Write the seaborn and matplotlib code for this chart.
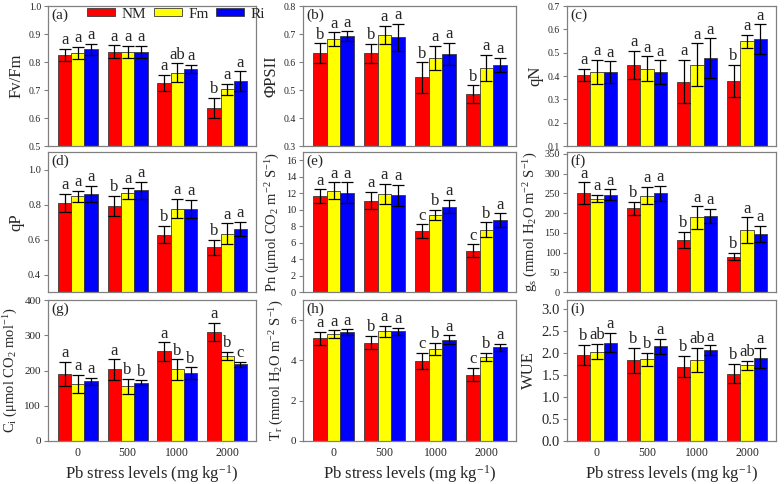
import numpy as np
import pandas as pd
import matplotlib
matplotlib.use('Agg')
import matplotlib.pyplot as plt
import matplotlib.patches as mpatches
import seaborn as sns

levels = ['0', '500', '1000', '2000']
treatments = ['NM', 'Fm', 'Ri']
colors = ['#FF0000', '#FFFF00', '#0000FF']

# rows: NM, Fm, Ri ; columns: 0, 500, 1000, 2000
fvfm = [[0.824, 0.836, 0.725, 0.636], [0.833, 0.836, 0.761, 0.702], [0.845, 0.836, 0.775, 0.731]]
fvfm_sd = [[0.022, 0.023, 0.029, 0.037], [0.021, 0.021, 0.034, 0.020], [0.019, 0.021, 0.015, 0.036]]
fvfm_let = [['a', 'a', 'a', 'b'], ['a', 'a', 'ab', 'a'], ['a', 'a', 'a', 'a']]

phipsii = [[0.631, 0.631, 0.545, 0.486], [0.682, 0.697, 0.614, 0.579], [0.692, 0.688, 0.628, 0.590]]
phipsii_sd = [[0.036, 0.034, 0.054, 0.031], [0.024, 0.032, 0.044, 0.046], [0.018, 0.049, 0.040, 0.025]]
phipsii_let = [['b', 'b', 'b', 'b'], ['a', 'a', 'a', 'a'], ['a', 'a', 'a', 'a']]

qn = [[0.404, 0.447, 0.376, 0.379], [0.417, 0.431, 0.449, 0.549], [0.416, 0.416, 0.477, 0.559]]
qn_sd = [[0.026, 0.060, 0.093, 0.069], [0.051, 0.053, 0.091, 0.027], [0.047, 0.051, 0.084, 0.063]]
qn_let = [['a', 'a', 'a', 'b'], ['a', 'a', 'a', 'a'], ['a', 'a', 'a', 'a']]

qp = [[0.809, 0.792, 0.628, 0.555], [0.847, 0.864, 0.777, 0.632], [0.860, 0.881, 0.774, 0.662]]
qp_sd = [[0.053, 0.057, 0.050, 0.043], [0.030, 0.030, 0.055, 0.060], [0.047, 0.050, 0.051, 0.040]]
qp_let = [['a', 'b', 'b', 'b'], ['a', 'a', 'a', 'a'], ['a', 'a', 'a', 'a']]

pn = [[11.6, 11.1, 7.4, 5.0], [12.3, 11.9, 9.35, 7.55], [12.05, 11.75, 10.35, 8.75]]
pn_sd = [[0.85, 1.05, 0.8, 0.8], [1.0, 1.2, 0.65, 0.9], [1.25, 1.25, 0.8, 0.8]]
pn_let = [['a', 'a', 'c', 'c'], ['a', 'a', 'b', 'b'], ['a', 'a', 'a', 'a']]

gs = [[250, 212, 132, 90], [237, 244, 189, 156], [247, 250, 193, 148]]
gs_sd = [[28, 17, 20, 10], [10, 22, 28, 33], [13, 20, 17, 20]]
gs_let = [['a', 'b', 'b', 'b'], ['a', 'a', 'a', 'a'], ['a', 'a', 'a', 'a']]

ci = [[190, 203, 254, 310], [161, 155, 203, 242], [169, 165, 193, 218]]
ci_sd = [[35, 29, 26, 26], [26, 22, 29, 11], [11, 7, 16, 7]]
ci_let = [['a', 'a', 'a', 'a'], ['a', 'b', 'b', 'b'], ['a', 'b', 'b', 'c']]

tr = [[5.1, 4.88, 3.98, 3.3], [5.3, 5.45, 4.58, 4.17], [5.4, 5.45, 5.03, 4.65]]
tr_sd = [[0.33, 0.33, 0.4, 0.33], [0.2, 0.28, 0.3, 0.22], [0.15, 0.18, 0.22, 0.17]]
tr_let = [['a', 'b', 'c', 'c'], ['a', 'a', 'b', 'b'], ['a', 'a', 'a', 'a']]

wue = [[1.95, 1.83, 1.69, 1.53], [2.03, 1.85, 1.84, 1.72], [2.23, 2.15, 2.06, 1.88]]
wue_sd = [[0.23, 0.29, 0.24, 0.22], [0.17, 0.15, 0.27, 0.10], [0.22, 0.17, 0.11, 0.23]]
wue_let = [['b', 'b', 'b', 'b'], ['ab', 'b', 'ab', 'ab'], ['a', 'a', 'a', 'a']]

panels = [
    ('(a)', 'Fv/Fm', fvfm, fvfm_sd, fvfm_let, (0.5, 1.0), np.arange(0.5, 1.01, 0.1), 12, 7),
    ('(b)', 'ΦPSII', phipsii, phipsii_sd, phipsii_let, (0.3, 0.8), np.arange(0.3, 0.81, 0.1), 12, 7),
    ('(c)', 'qN', qn, qn_sd, qn_let, (0.1, 0.7), np.arange(0.1, 0.71, 0.1), 12, 7),
    ('(d)', 'qP', qp, qp_sd, qp_let, (0.3, 1.1), np.arange(0.4, 1.01, 0.2), 12, 7.5),
    ('(e)', 'Pn (μmol CO$_2$ m$^{-2}$ S$^{-1}$)', pn, pn_sd, pn_let, (0, 17), np.arange(0, 17, 2), 10.5, 7.5),
    ('(f)', 'g$_s$ (mmol H$_2$O m$^{-2}$ S$^{-1}$)', gs, gs_sd, gs_let, (0, 355), np.arange(0, 351, 50), 10.5, 7.5),
    ('(g)', 'C$_i$ (μmol CO$_2$ mol$^{-1}$)', ci, ci_sd, ci_let, (0, 400), np.arange(0, 401, 100), 10.5, 8),
    ('(h)', 'T$_r$ (mmol H$_2$O m$^{-2}$ S$^{-1}$)', tr, tr_sd, tr_let, (0, 7), np.arange(0, 7, 2), 10.5, 8),
    ('(i)', 'WUE', wue, wue_sd, wue_let, (0, 3.2), np.arange(0, 3.01, 0.5), 12, 10.5),
]

sns.set_style('white')
plt.rcParams['font.family'] = ['Liberation Serif', 'DejaVu Serif']
plt.rcParams['mathtext.fontset'] = 'custom'
plt.rcParams['mathtext.rm'] = 'Liberation Serif'
plt.rcParams['mathtext.it'] = 'Liberation Serif:italic'
plt.rcParams['mathtext.default'] = 'regular'

fig = plt.figure(figsize=(7.84, 4.84), dpi=100)
lefts, widths = [48, 303, 567], [208, 213, 209]
tops, heights = [6, 152, 300], [140, 140, 141]

for i, (tag, ylab, mean, sd, lets, ylim, yticks, ylab_fs, tick_fs) in enumerate(panels):
    r, c = divmod(i, 3)
    ax = fig.add_axes([lefts[c] / 784, 1 - (tops[r] + heights[r]) / 484,
                       widths[c] / 784, heights[r] / 484])
    df = pd.DataFrame({'level': levels * 3,
                       'trt': np.repeat(treatments, 4),
                       'value': np.concatenate(mean)})
    sns.barplot(data=df, x='level', y='value', hue='trt', order=levels, hue_order=treatments,
                palette=colors, saturation=1, errorbar=None, width=0.8,
                edgecolor='#3a3a3a', linewidth=0.6, ax=ax, legend=False)

    bars = list(ax.containers[:3])
    for j, cont in enumerate(bars):
        xs = sorted(b.get_x() + b.get_width() / 2 for b in cont)
        ax.errorbar(xs, mean[j], yerr=sd[j], fmt='none', ecolor='black',
                    elinewidth=0.9, capsize=4, capthick=0.9, zorder=5)
        for x, m, s, t in zip(xs, mean[j], sd[j], lets[j]):
            ax.annotate(t, (x, m + s), xytext=(0, 0.5), textcoords='offset points',
                        ha='center', va='bottom', fontsize=12)

    ax.set_xlim(-0.6, 3.58)
    ax.set_ylim(*ylim)
    ax.set_yticks(yticks)
    ax.set_ylabel(ylab, fontsize=ylab_fs, labelpad=3)
    ax.tick_params(axis='y', left=True, length=3, width=0.8, color='#808080',
                   labelsize=tick_fs, pad=2)
    ax.tick_params(axis='x', bottom=False, length=0, labelsize=8.5, pad=4)
    if r < 2:
        ax.set_xticklabels([])
        ax.set_xlabel('')
    else:
        ax.set_xlabel('Pb stress levels (mg kg$^{-1}$)', fontsize=12, labelpad=3)
    for s in ax.spines.values():
        s.set_color('#808080')
        s.set_linewidth(0.9)
    ax.text(0.018, 0.985, tag, transform=ax.transAxes, ha='left', va='top', fontsize=11)

    if i == 0:
        handles = [mpatches.Patch(facecolor=col, edgecolor='#3a3a3a', linewidth=0.6)
                   for col in colors]
        ax.legend(handles, treatments, loc='upper right', bbox_to_anchor=(1.065, 1.02),
                  ncol=3, frameon=False, fontsize=11, handlelength=1.85,
                  handleheight=0.4, columnspacing=0.5, handletextpad=0.4,
                  borderaxespad=0.1, borderpad=0.2)

fig.savefig('out.png', dpi=100)
